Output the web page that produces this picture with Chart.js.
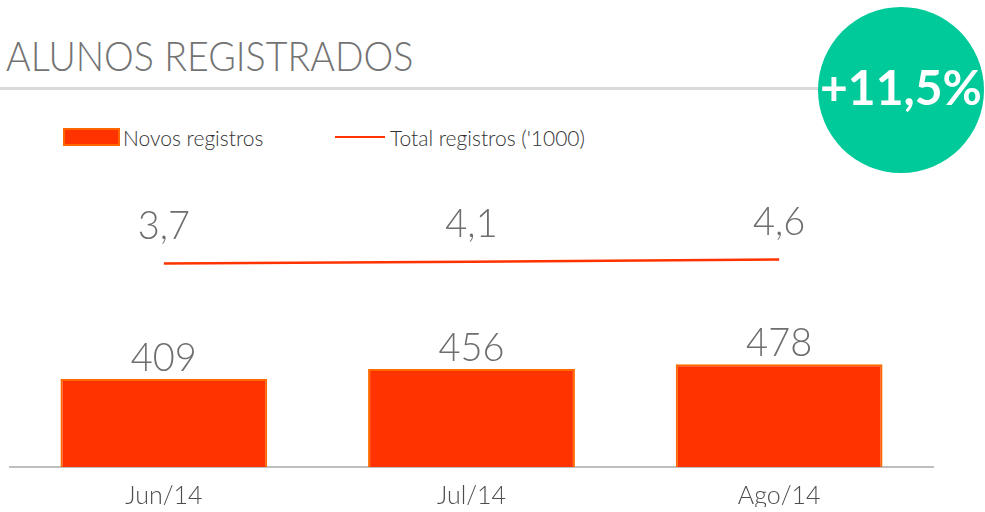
<!DOCTYPE html>
<html lang="pt">
<head>
<meta charset="utf-8">
<title>Alunos registrados</title>
<script src="https://cdn.jsdelivr.net/npm/chart.js@4.4.1/dist/chart.umd.min.js"></script>
<style>
  html, body {
    margin: 0;
    padding: 0;
    background: #ffffff;
    width: 985px;
    height: 512px;
    overflow: hidden;
    font-family: "Lato", "DejaVu Sans", sans-serif;
  }
  #title {
    position: absolute;
    left: 6px;
    top: 31px;
    font-size: 37.6px;
    font-weight: 300;
    color: #737373;
    line-height: 44px;
    white-space: nowrap;
    transform: scaleY(1.1);
    transform-origin: left top;
  }
  #rule {
    position: absolute;
    left: 0;
    top: 87px;
    width: 840px;
    height: 3px;
    background: #d9d9d9;
  }
  #badge {
    position: absolute;
    left: 818px;
    top: 7px;
    width: 166px;
    height: 166px;
    box-sizing: border-box;
    padding-bottom: 8px;
    border-radius: 50%;
    background: #00c99a;
    color: #ffffff;
    font-size: 48px;
    font-weight: 700;
    display: flex;
    align-items: center;
    justify-content: center;
    z-index: 2;
  }
  .legend-item {
    position: absolute;
    top: 125px;
    height: 24px;
    display: flex;
    align-items: center;
    font-size: 21px;
    font-weight: 300;
    color: #333333;
    white-space: nowrap;
  }
  .swatch-bar {
    width: 57px;
    height: 18px;
    box-sizing: border-box;
    background: #ff3300;
    border: 2px solid #ff6600;
    margin-right: 3px;
  }
  .swatch-line {
    width: 50px;
    height: 2px;
    background: #ff3300;
    margin-right: 5px;
  }
  #chart-wrap {
    position: absolute;
    left: 0;
    top: 0;
    width: 985px;
    height: 512px;
  }
</style>
</head>
<body>
<div id="title">ALUNOS REGISTRADOS</div>
<div id="rule"></div>
<div id="badge"></div>
<div class="legend-item" style="left:63px"><span class="swatch-bar"></span><span id="leg-bar"></span></div>
<div class="legend-item" style="left:335px"><span class="swatch-line"></span><span id="leg-line"></span></div>
<div id="chart-wrap"><canvas id="chart"></canvas></div>
<script>
// data
const categories = ["Jun/14", "Jul/14", "Ago/14"];
const novosRegistros = [409, 456, 478];
const totalRegistros = [3.7, 4.1, 4.6]; // in thousands
const seriesNames = ["Novos registros", "Total registros ('1000)"];
const growthLabel = "+11,5%";

document.getElementById("badge").textContent = growthLabel;
document.getElementById("leg-bar").textContent = seriesNames[0];
document.getElementById("leg-line").textContent = seriesNames[1];

const fmt = (v) => String(v).replace(".", ",");

// draws the value over each bar and each line point
const valueLabels = {
  id: "valueLabels",
  afterDatasetsDraw(chart) {
    const ctx = chart.ctx;
    ctx.save();
    ctx.fillStyle = "#6e6e6e";
    ctx.textAlign = "center";
    ctx.textBaseline = "alphabetic";
    ctx.font = "300 38px Lato, 'DejaVu Sans', sans-serif";
    chart.data.datasets.forEach((ds, i) => {
      const meta = chart.getDatasetMeta(i);
      const off = ds.type === "line" ? 25 : 8;
      meta.data.forEach((el, j) => {
        ctx.save();
        ctx.translate(el.x, el.y - off);
        ctx.scale(1, 1.06);
        ctx.fillText(fmt(ds.data[j]), 0, 0);
        ctx.restore();
      });
    });
    ctx.restore();
  },
};

const ctx = document.getElementById("chart").getContext("2d");
new Chart(ctx, {
  data: {
    labels: categories,
    datasets: [
      {
        type: "line",
        label: seriesNames[1],
        data: totalRegistros,
        yAxisID: "y2",
        borderColor: "#ff3300",
        borderWidth: 2.5,
        pointRadius: 0,
        tension: 0,
        fill: false,
      },
      {
        type: "bar",
        label: seriesNames[0],
        data: novosRegistros,
        yAxisID: "y",
        backgroundColor: "#ff3300",
        borderColor: "#ff6a00",
        borderWidth: 2,
        categoryPercentage: 1,
        barPercentage: 0.672,
      },
    ],
  },
  options: {
    responsive: true,
    maintainAspectRatio: false,
    animation: false,
    layout: { padding: { left: 10, right: 52, top: 209, bottom: 5 } },
    plugins: {
      legend: { display: false },
      tooltip: { enabled: false },
    },
    scales: {
      x: {
        grid: { display: false, drawTicks: false },
        border: { display: true, color: "#bfbfbf", width: 2 },
        ticks: {
          color: "#4d4d4d",
          padding: 14,
          font: { family: "Lato", size: 25, weight: 300 },
        },
        afterFit: (s) => {
          s.height = 40;
        },
      },
      y: { display: false, min: 0, max: 1200 },
      y2: { display: false, min: -41, max: 15.7 },
    },
  },
  plugins: [valueLabels],
});
</script>
</body>
</html>
